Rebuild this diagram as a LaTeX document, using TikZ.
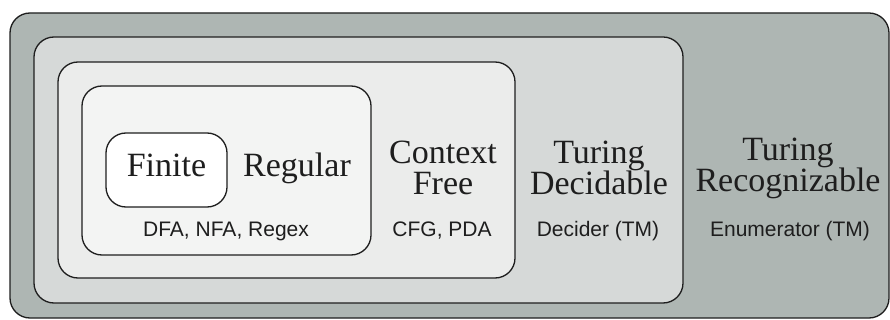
\documentclass[tikz,border=0pt]{standalone}
\usepackage{fontspec}
\setmainfont{Liberation Serif}
\setsansfont{Liberation Sans}
\usepackage{tikz}
\usetikzlibrary{positioning}
\usepackage{xcolor}
\definecolor{recogFill}{RGB}{174, 182, 179}
\definecolor{decidFill}{RGB}{214, 217, 216}
\definecolor{cfFill}{RGB}{235, 236, 235}
\definecolor{regFill}{RGB}{243, 244, 243}
\definecolor{inkGray}{RGB}{30, 30, 30}

\begin{document}
\begin{tikzpicture}[x=1pt, y=-1pt,
  classbox/.style={draw=inkGray, line width=1.3pt, rounded corners=20pt, inner sep=0pt},
  classname/.style={font=\fontsize{34}{31}\selectfont, align=center, text=inkGray},
  machine/.style={font=\sffamily\fontsize{21}{21}\selectfont, text=inkGray}]
  \useasboundingbox (0,0) rectangle (890,320);

  % Nested language classes, outermost first
  \node[classbox, fill=recogFill, minimum width=879, minimum height=305] (recog) at (449.5,165.5) {};
  \node[classbox, fill=decidFill, minimum width=649, minimum height=266] (decid) at (358.5,170) {};
  \node[classbox, fill=cfFill, minimum width=457, minimum height=216] (cfree) at (286.5,170) {};
  \node[classbox, fill=regFill, minimum width=289, minimum height=169] (regular) at (226.5,170.5) {};
  \node[classbox, fill=white, minimum width=121, minimum height=74] (finite) at (166.5,170) {};

  % Class names
  \node[classname, anchor=base] (finiteName) at (166.5,177) {Finite};
  \node[classname, anchor=base] (regularName) at (297,177) {Regular};
  \node[classname] (cfreeName) at (443,168) {Context\\Free};
  \node[classname] (decidName) at (599,168) {Turing\\Decidable};
  \node[classname] (recogName) at (788,168) {Turing\\Recognizable};

  % Machines
  \node[machine, anchor=base] (regularMach) at (226,236) {DFA, NFA, Regex};
  \node[machine, anchor=base] (cfreeMach) at (442,236) {CFG, PDA};
  \node[machine, anchor=base] (decidMach) at (598,236) {Decider (TM)};
  \node[machine, anchor=base] (recogMach) at (790,236) {Enumerator (TM)};
\end{tikzpicture}
\end{document}
